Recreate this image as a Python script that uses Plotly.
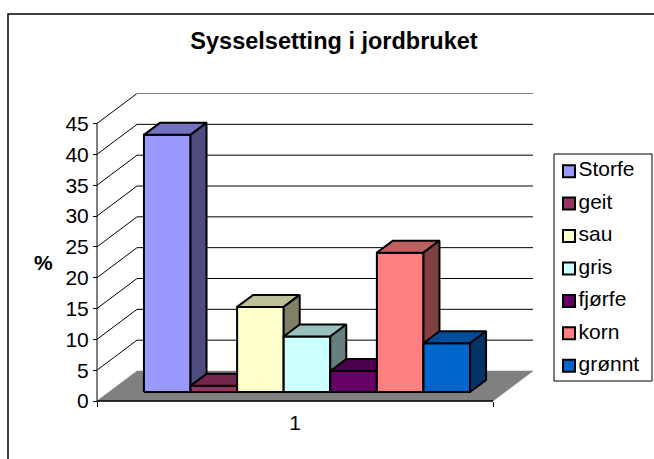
import plotly.graph_objects as go

TITLE = "Sysselsetting i jordbruket"
Y_LABEL = "%"
series_names = ["Storfe", "geit", "sau", "gris", "fjørfe", "korn", "grønnt"]
series_values = [41.7, 1.0, 13.8, 9.0, 3.4, 22.6, 7.9]
series_colors = ["#9999FF", "#993366", "#FFFFCC", "#CCFFFF", "#660066", "#FF8080", "#0066CC"]
y_ticks = [0, 5, 10, 15, 20, 25, 30, 35, 40, 45]
category_labels = ["1"]

W, H = 654, 459
FONT = "Liberation Sans, Arial, sans-serif"
# front plot frame in page pixels
L, R, T, B = 97, 493, 123.5, 401
X_MAX = 8.5
Y_MAX = 45
PX_X = (R - L) / X_MAX
PX_Y = (B - T) / Y_MAX
WALL_DX, WALL_DY = 40, 30  # oblique projection of the full depth, in px
PAD = 2  # px kept around the frame so that its edge lines are not clipped


def proj(x, v, depth):
    return x + depth * WALL_DX / PX_X, v + depth * WALL_DY / PX_Y


def poly(corners, fill, name, line_w=2.0, line_c="#000000"):
    xs, ys = zip(*[proj(*c) for c in corners])
    return go.Scatter(x=list(xs) + [xs[0]], y=list(ys) + [ys[0]], mode="lines", fill="toself",
                      fillcolor=fill, line=dict(color=line_c, width=line_w), hoverinfo="skip",
                      name=name, showlegend=False)


def shade(hex_color, k):
    r, g, b = (int(hex_color[i:i + 2], 16) for i in (1, 3, 5))
    return f"rgb({r * k:.0f},{g * k:.0f},{b * k:.0f})"


def line(xs, ys, width=1.0):
    return go.Scatter(x=xs, y=ys, mode="lines", line=dict(color="#000000", width=width),
                      hoverinfo="skip", showlegend=False)


fig = go.Figure()

# floor
fig.add_trace(poly([(0, 0, 0), (X_MAX, 0, 0), (X_MAX, 0, 1), (0, 0, 1)], "#808080", "floor", 0.5, "#808080"))

# gridlines: side wall + back wall
for t in y_ticks[1:]:
    gx, gy = zip(proj(0, t, 0), proj(0, t, 1), proj(X_MAX, t, 1))
    fig.add_trace(line(list(gx), list(gy)))

# front axis lines, which stop at the front of the box
fig.add_trace(line([0, 0], [0, Y_MAX]))
fig.add_trace(line([0, X_MAX], [0, 0], 1.5))

# bars
GAP = 0.75
D0, D1 = 0.3, 0.7
for i, (n, v, c) in enumerate(zip(series_names, series_values, series_colors)):
    x0, x1 = GAP + i, GAP + i + 1
    fig.add_trace(poly([(x0, 0, D0), (x1, 0, D0), (x1, v, D0), (x0, v, D0)], c, n))
    fig.add_trace(poly([(x0, v, D0), (x1, v, D0), (x1, v, D1), (x0, v, D1)], shade(c, 0.75), n))
    fig.add_trace(poly([(x1, 0, D0), (x1, 0, D1), (x1, v, D1), (x1, v, D0)], shade(c, 0.5), n))

# legend, drawn on its own small axes
for n, c in zip(series_names, series_colors):
    fig.add_trace(go.Scatter(x=[0.153], y=[n], xaxis="x2", yaxis="y2", mode="markers",
                             marker=dict(symbol="square", size=12, color=c, line=dict(color="#000000", width=2)),
                             name=n, showlegend=False, cliponaxis=False))
    fig.add_trace(go.Scatter(x=[0.25], y=[n], xaxis="x2", yaxis="y2", mode="text",
                             text=[n], textposition="middle right",
                             textfont=dict(family=FONT, size=21, color="#000000"),
                             name=n, showlegend=False, cliponaxis=False))


def fx(x):
    return x / W


def fy(y):
    return 1 - y / H


LEG_L, LEG_R, LEG_T, LEG_B = 554, 652, 154, 381
fig.update_layout(
    template="none",
    width=W, height=H, margin=dict(l=0, r=0, t=0, b=0, pad=0), autosize=False,
    paper_bgcolor="white", plot_bgcolor="rgba(0,0,0,0)", showlegend=False,
    font=dict(family=FONT, size=21, color="#000000"),
    title=dict(text=f"<b>{TITLE}</b>", x=fx(334), y=fy(41), xanchor="center", yanchor="middle",
               font=dict(family=FONT, size=23.5, color="#000000")),
    xaxis=dict(domain=[fx(L - PAD), fx(R + WALL_DX)],
               range=[-PAD / PX_X, X_MAX + WALL_DX / PX_X], automargin=False,
               anchor="free", position=fy(B),
               showgrid=False, zeroline=False, showline=False,
               tickvals=[X_MAX / 2], ticktext=category_labels, ticks="", ticklabelstandoff=7,
               tickfont=dict(family=FONT, size=21),
               minor=dict(tickvals=[0, X_MAX], ticks="outside", ticklen=5, tickcolor="#000000", showgrid=False)),
    yaxis=dict(domain=[fy(B + PAD), fy(T - WALL_DY)],
               range=[-PAD / PX_Y, Y_MAX + WALL_DY / PX_Y], automargin=False,
               anchor="free", position=fx(L),
               showgrid=False, zeroline=False, showline=False,
               tickvals=y_ticks, ticks="outside", ticklen=4, tickcolor="#000000",
               tickfont=dict(family=FONT, size=21)),
    xaxis2=dict(domain=[fx(LEG_L), fx(LEG_R)], range=[0, 1], visible=False, anchor="y2", automargin=False),
    yaxis2=dict(domain=[fy(LEG_B), fy(LEG_T)], range=[6.47, -0.53], visible=False, anchor="x2", automargin=False,
                type="category", categoryorder="array", categoryarray=series_names),
    annotations=[dict(text=f"<b>{Y_LABEL}</b>", xref="paper", yref="paper", x=fx(43), y=fy(262),
                      xanchor="center", yanchor="middle", showarrow=False,
                      font=dict(family=FONT, size=21, color="#000000"))],
    shapes=[
        dict(type="rect", xref="paper", yref="paper", x0=fx(8), x1=fx(700), y0=fy(14), y1=fy(500),
             line=dict(color="#000000", width=1.5), layer="below"),
        dict(type="rect", xref="paper", yref="paper", x0=fx(LEG_L), x1=fx(LEG_R), y0=fy(LEG_B), y1=fy(LEG_T),
             line=dict(color="#000000", width=1), layer="below"),
    ],
)
fig.write_html("out.html", config=dict(displayModeBar=False),
               post_script="document.body.style.margin='0';")
